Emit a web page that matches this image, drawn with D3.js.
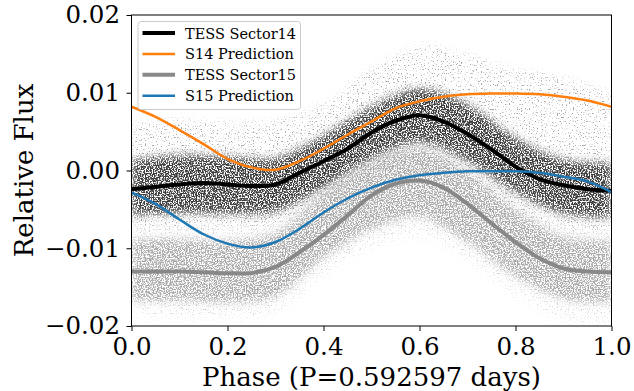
<!DOCTYPE html>
<html>
<head>
<meta charset="utf-8">
<script src="https://d3js.org/d3.v7.min.js"></script>
<style>
  body { margin: 0; background: #fff; }
  text { font-family: "DejaVu Serif", serif; }
</style>
</head>
<body>
<svg id="chart" width="634" height="391"></svg>
<script>
  // phase grid for the binned / prediction curves
  let phase = d3.range(0, 21).map(i => i * 0.05);
  let s14Bin = [-0.0024, -0.0021, -0.0018, -0.0016, -0.0018, -0.0020, -0.0018, -0.0003, 0.0012, 0.0028, 0.0049,
    0.0064, 0.0071, 0.0063, 0.0047, 0.0027, 0.0005, -0.0011, -0.0019, -0.0024, -0.0026];
  let s14Pred = [0.0082, 0.0069, 0.0052, 0.0034, 0.0015, 0.0004, 0.0001, 0.0012, 0.0028, 0.0046, 0.0063,
    0.0080, 0.0089, 0.0095, 0.0098, 0.0099, 0.0099, 0.0098, 0.0095, 0.0090, 0.0082];
  let s15Bin = [-0.0130, -0.0130, -0.0130, -0.0131, -0.0132, -0.0132, -0.0124, -0.0105, -0.0083, -0.0058, -0.0032,
    -0.0017, -0.0013, -0.0022, -0.0043, -0.0068, -0.0092, -0.0113, -0.0126, -0.0130, -0.0131];
  let s15Pred = [-0.0028, -0.0043, -0.0063, -0.0082, -0.0094, -0.0099, -0.0092, -0.0075, -0.0054, -0.0036, -0.0022,
    -0.0012, -0.0006, -0.0003, -0.0001, -0.0001, -0.0001, -0.0003, -0.0008, -0.0014, -0.0028];

  // extent of the scatter clouds (dense core and sparse outskirts)
  let bandPhase = d3.range(0, 11).map(i => i * 0.1);
  let s14Lo = [-0.0058, -0.0055, -0.0056, -0.0053, -0.0022, 0.0015, 0.0036, 0.0012, -0.0028, -0.0056, -0.0060];
  let s14Hi = [0.0014, 0.0020, 0.0018, 0.0016, 0.0045, 0.0082, 0.0105, 0.0085, 0.0042, 0.0014, 0.0010];
  let s14OutLo = [-0.0075, -0.0072, -0.0075, -0.0070, -0.0040, -0.0002, 0.0015, -0.0008, -0.0050, -0.0075, -0.0078];
  let s14OutHi = [0.0060, 0.0065, 0.0062, 0.0065, 0.0085, 0.0130, 0.0160, 0.0150, 0.0130, 0.0120, 0.0100];
  let s15Lo = [-0.0168, -0.0168, -0.0170, -0.0162, -0.0112, -0.0076, -0.0060, -0.0092, -0.0136, -0.0165, -0.0170];
  let s15Hi = [-0.0088, -0.0088, -0.0090, -0.0080, -0.0030, 0.0010, 0.0028, -0.0002, -0.0050, -0.0085, -0.0090];
  let s15OutLo = [-0.0185, -0.0190, -0.0190, -0.0182, -0.0135, -0.0100, -0.0085, -0.0115, -0.0160, -0.0190, -0.0195];
  let s15OutHi = [-0.0062, -0.0062, -0.0065, -0.0055, -0.0005, 0.0035, 0.0050, 0.0025, -0.0025, -0.0060, -0.0065];

  let xTicks = [0, 0.2, 0.4, 0.6, 0.8, 1.0];
  let yTicks = [-0.02, -0.01, 0, 0.01, 0.02];

  let pL = 131.5, pR = 611.5, pT = 15, pB = 326;
  let svg = d3.select("#chart");
  let x = d3.scaleLinear().domain([0, 1]).range([pL, pR]);
  let y = d3.scaleLinear().domain([-0.02, 0.02]).range([pB, pT]);

  let defs = svg.append("defs");
  defs.append("clipPath").attr("id", "plotclip")
    .append("rect").attr("x", pL).attr("y", pT).attr("width", pR - pL).attr("height", pB - pT);

  // speckle filter: blurred band masked by thresholded noise -> looks like scattered dots
  function speckle(id, seed, cut) {
    let f = defs.append("filter").attr("id", id)
      .attr("filterUnits", "userSpaceOnUse")
      .attr("x", pL).attr("y", pT).attr("width", pR - pL).attr("height", pB - pT);
    f.append("feGaussianBlur").attr("in", "SourceGraphic").attr("stdDeviation", 4).attr("result", "b");
    f.append("feTurbulence").attr("type", "fractalNoise").attr("baseFrequency", 0.75)
      .attr("numOctaves", 1).attr("seed", seed).attr("result", "n");
    f.append("feColorMatrix").attr("in", "n").attr("type", "matrix")
      .attr("values", "0 0 0 0 0  0 0 0 0 0  0 0 0 0 0  9 0 0 0 " + (-9 * cut)).attr("result", "a");
    f.append("feComposite").attr("in", "b").attr("in2", "a").attr("operator", "in");
  }
  speckle("spk14", 3, 0.42);
  speckle("spk14s", 5, 0.6);
  speckle("spk15", 8, 0.44);
  speckle("spk15s", 11, 0.6);

  let plot = svg.append("g").attr("clip-path", "url(#plotclip)");

  let band = (lo, hi) => d3.area()
    .x((d, i) => x(bandPhase[i]))
    .y0((d, i) => y(lo[i]))
    .y1((d, i) => y(hi[i]))
    .curve(d3.curveCatmullRom)(bandPhase);

  let line = vals => d3.line()
    .x((d, i) => x(phase[i]))
    .y((d, i) => y(vals[i]))
    .curve(d3.curveCatmullRom)(phase);

  // Sector 14 cloud
  plot.append("path").attr("d", band(s14OutLo, s14OutHi)).attr("fill", "#000")
    .attr("opacity", 0.35).attr("filter", "url(#spk14s)");
  plot.append("path").attr("d", band(s14Lo, s14Hi)).attr("fill", "#000")
    .attr("opacity", 0.75).attr("filter", "url(#spk14)");

  plot.append("path").attr("d", line(s14Bin)).attr("fill", "none")
    .attr("stroke", "#000").attr("stroke-width", 4);
  plot.append("path").attr("d", line(s14Pred)).attr("fill", "none")
    .attr("stroke", "#ff7f0e").attr("stroke-width", 2.5);

  // Sector 15 cloud
  plot.append("path").attr("d", band(s15OutLo, s15OutHi)).attr("fill", "#808080")
    .attr("opacity", 0.35).attr("filter", "url(#spk15s)");
  plot.append("path").attr("d", band(s15Lo, s15Hi)).attr("fill", "#808080")
    .attr("opacity", 0.65).attr("filter", "url(#spk15)");

  plot.append("path").attr("d", line(s15Bin)).attr("fill", "none")
    .attr("stroke", "#888").attr("stroke-width", 4);
  plot.append("path").attr("d", line(s15Pred)).attr("fill", "none")
    .attr("stroke", "#1f77b4").attr("stroke-width", 2.5);

  // axes
  let fmtX = d3.format(".1f"), fmtY = d3.format(".2f");
  svg.append("g").attr("transform", "translate(0," + pB + ")")
    .call(d3.axisBottom(x).tickValues(xTicks).tickFormat(fmtX).tickSizeOuter(0).tickSize(5).tickPadding(7));
  svg.append("g").attr("transform", "translate(" + pL + ",0)")
    .call(d3.axisLeft(y).tickValues(yTicks).tickFormat(fmtY).tickSizeOuter(0).tickSize(5).tickPadding(6.5));
  svg.selectAll(".tick text").attr("font-family", "DejaVu Serif").attr("font-size", 24.5).attr("fill", "#000");
  svg.selectAll(".tick line").attr("stroke", "#000").attr("stroke-width", 1);
  svg.selectAll(".domain").remove();

  svg.append("rect").attr("x", pL).attr("y", pT).attr("width", pR - pL).attr("height", pB - pT)
    .attr("fill", "none").attr("stroke", "#000").attr("stroke-width", 1);

  svg.append("text").attr("x", (pL + pR) / 2).attr("y", 386).attr("text-anchor", "middle")
    .attr("font-size", 26).text("Phase (P=0.592597 days)");
  svg.append("text").attr("transform", "translate(33," + (pT + pB) / 2 + ") rotate(-90)")
    .attr("text-anchor", "middle").attr("font-size", 26).text("Relative Flux");

  // legend
  let legendNames = ["TESS Sector14", "S14 Prediction", "TESS Sector15", "S15 Prediction"];
  let legendColors = ["#000", "#ff7f0e", "#888", "#1f77b4"];
  let legendWidths = [4, 2.5, 4, 2.5];
  let lg = svg.append("g");
  lg.append("rect").attr("x", 138).attr("y", 21.5).attr("width", 162.5).attr("height", 88).attr("rx", 3)
    .attr("fill", "#fff").attr("fill-opacity", 0.8).attr("stroke", "#ccc");
  legendNames.forEach((name, i) => {
    let cy = 33 + i * 20.9;
    lg.append("line").attr("x1", 142.5).attr("x2", 175).attr("y1", cy).attr("y2", cy)
      .attr("stroke", legendColors[i]).attr("stroke-width", legendWidths[i]);
    lg.append("text").attr("x", 185).attr("y", cy + 5.5).attr("font-size", 14.5).text(name);
  });
</script>
</body>
</html>
